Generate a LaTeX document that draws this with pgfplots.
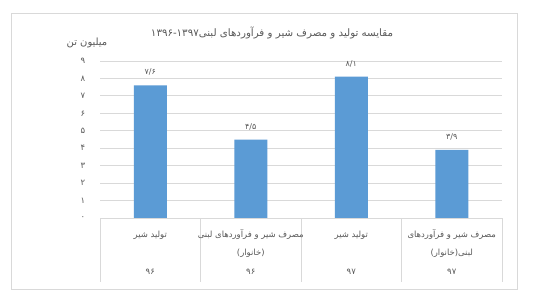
\documentclass[border=0pt]{standalone}
\usepackage{fontspec}
\usepackage{pgfplots}
\pgfplotsset{compat=1.18}
\TeXXeTstate=1
\newfontfamily\fa[Script=Arabic]{DejaVu Sans}
\definecolor{barblue}{HTML}{5B9BD5}
\definecolor{txt}{HTML}{595959}
\definecolor{gridc}{HTML}{D9D9D9}
\newcommand{\R}[1]{\beginR #1\endR}
\tikzset{lab/.style={txt, font=\fa\fontsize{8.5}{10}\selectfont, inner sep=0pt}}
\begin{document}
\begin{tikzpicture}[x=1bp,y=1bp]
\path[use as bounding box] (0,0) rectangle (539,304);
\fill[white] (0,0) rectangle (539,304);
\draw[gridc, line width=0.8bp] (11,15) rectangle (517,291);
\node[txt, font=\fa\fontsize{10.3}{12}\selectfont] at (272,271) {\beginR مقایسه تولید و مصرف شیر و فرآوردهای لبنی\beginL ۱۳۹۶-۱۳۹۷\endL\endR};
\node[txt, font=\fa\fontsize{10}{12}\selectfont] at (87,261) {\R{میلیون تن}};
\begin{axis}[
  at={(100bp,86bp)}, anchor=south west,
  scale only axis, width=402bp, height=157bp,
  xmin=-0.5, xmax=3.5, ymin=0, ymax=9,
  clip=false,
  axis line style={draw=none},
  major tick length=0pt,
  xtick=\empty,
  ytick={0,1,2,3,4,5,6,7,8,9},
  yticklabels={۰,۱,۲,۳,۴,۵,۶,۷,۸,۹},
  yticklabel style={anchor=center, xshift=-17bp, font=\fa\fontsize{8.5}{10}\selectfont, text=txt},
  ymajorgrids,
  grid style={gridc, line width=0.8bp},
]
\addplot[ybar, bar width=33bp, fill=barblue, draw=none,
  point meta=explicit symbolic,
  nodes near coords,
  nodes near coords style={anchor=center, yshift=13bp, font=\fa\fontsize{8}{10}\selectfont, text=txt}]
  coordinates {(0,7.6)[۷/۶] (1,4.5)[۴/۵] (2,8.1)[۸/۱] (3,3.9)[۳/۹]};
\draw[gridc, line width=0.8bp] (axis cs:-0.5,0) -- (axis cs:3.5,0);
\draw[gridc, line width=0.8bp] (axis cs:-0.5,0) -- ++(0pt,-64bp);
\draw[gridc, line width=0.8bp] (axis cs:0.5,0) -- ++(0pt,-64bp);
\draw[gridc, line width=0.8bp] (axis cs:1.5,0) -- ++(0pt,-64bp);
\draw[gridc, line width=0.8bp] (axis cs:2.5,0) -- ++(0pt,-64bp);
\draw[gridc, line width=0.8bp] (axis cs:3.5,0) -- ++(0pt,-64bp);
\node[lab, yshift=-17bp] at (axis cs:0,0) {\R{تولید شیر}};
\node[lab, yshift=-54bp] at (axis cs:0,0) {۹۶};
\node[lab, yshift=-17bp] at (axis cs:1,0) {\R{مصرف شیر و فرآوردهای لبنی}};
\node[lab, yshift=-35bp] at (axis cs:1,0) {\R{(خانوار)}};
\node[lab, yshift=-54bp] at (axis cs:1,0) {۹۶};
\node[lab, yshift=-17bp] at (axis cs:2,0) {\R{تولید شیر}};
\node[lab, yshift=-54bp] at (axis cs:2,0) {۹۷};
\node[lab, yshift=-17bp] at (axis cs:3,0) {\R{مصرف شیر و فرآوردهای}};
\node[lab, yshift=-35bp] at (axis cs:3,0) {\R{لبنی(خانوار)}};
\node[lab, yshift=-54bp] at (axis cs:3,0) {۹۷};
\end{axis}
\end{tikzpicture}
\end{document}
